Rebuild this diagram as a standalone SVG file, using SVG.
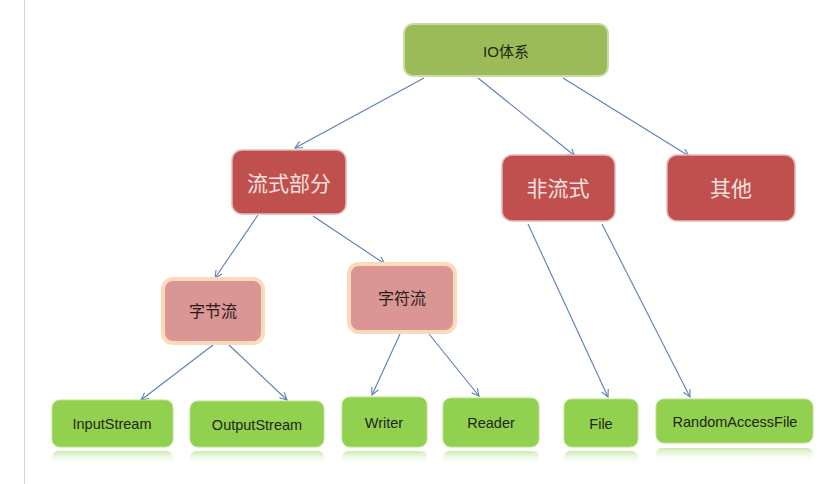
<svg xmlns="http://www.w3.org/2000/svg" width="834" height="484" viewBox="0 0 834 484">
<style>
.top{fill:#9bbb59;stroke:#c9dca3;stroke-width:2}
.red{fill:#c0504d;stroke:#e8b8b6;stroke-width:1.5}
.pink{fill:#d99694;stroke:#fbd9bb;stroke-width:4}
.leaf{fill:#92d050;stroke:#b9e38c;stroke-width:1}
.refl{fill:url(#rg)}
.t{font-family:"Liberation Sans","Noto Sans CJK SC",sans-serif;text-anchor:middle;dominant-baseline:central}
.tc{font-size:15px;fill:#1e2a10}
.tr{font-size:21px;fill:#f6e1e0}
.tp{font-size:16px;fill:#2a1a1a}
.tl{font-size:14.5px;fill:#1f2618}
.c{fill:none;stroke:#5b7fb4;stroke-width:1.1;marker-end:url(#ah)}
</style>
<defs>
<marker id="ah" viewBox="0 0 10 10" refX="9" refY="5" markerWidth="9" markerHeight="9" orient="auto" markerUnits="userSpaceOnUse">
<path d="M1,1 L9,5 L1,9" fill="none" stroke="#5b7fb4" stroke-width="1.2"/>
</marker>
<linearGradient id="rg" x1="0" y1="0" x2="0" y2="1">
<stop offset="0" stop-color="#c6e8a4" stop-opacity="0.9"/>
<stop offset="1" stop-color="#ffffff" stop-opacity="0"/>
</linearGradient>
</defs>
<rect width="834" height="484" fill="#ffffff"/>
<line x1="24.5" y1="0" x2="24.5" y2="484" stroke="#d6d6d6" stroke-width="1"/>
<g id="connectors">
<line class="c" x1="424" y1="78" x2="295" y2="148"/>
<line class="c" x1="478" y1="78" x2="575" y2="156"/>
<line class="c" x1="563" y1="78" x2="689" y2="156"/>
<line class="c" x1="258" y1="215" x2="215" y2="278"/>
<line class="c" x1="313" y1="216" x2="385" y2="264"/>
<line class="c" x1="213" y1="345" x2="141" y2="400"/>
<line class="c" x1="229" y1="345" x2="287" y2="400"/>
<line class="c" x1="400" y1="334" x2="372" y2="395"/>
<line class="c" x1="429" y1="334" x2="479" y2="396"/>
<line class="c" x1="528" y1="224" x2="608" y2="397"/>
<line class="c" x1="602" y1="224" x2="690" y2="397"/>
</g>
<g id="n-io"><rect class="top" x="404" y="24" width="204" height="52" rx="9"/><text class="t tc" x="506" y="51">IO体系</text></g>
<g id="n-liushi"><rect class="red" x="232" y="150" width="114" height="64" rx="10"/><text class="t tr" x="289" y="183">流式部分</text></g>
<g id="n-feiliushi"><rect class="red" x="502" y="155" width="113" height="66" rx="10"/><text class="t tr" x="558" y="188">非流式</text></g>
<g id="n-qita"><rect class="red" x="667" y="155" width="128" height="66" rx="10"/><text class="t tr" x="731" y="188">其他</text></g>
<g id="n-zijie"><rect class="pink" x="163" y="279" width="100" height="64" rx="10"/><text class="t tp" x="213" y="311">字节流</text></g>
<g id="n-zifu"><rect class="pink" x="349" y="264" width="106" height="68" rx="10"/><text class="t tp" x="402" y="298">字符流</text></g>
<g id="n-input"><rect class="refl" x="52" y="451" width="121" height="14" rx="6"/><rect class="leaf" x="52" y="400" width="121" height="47" rx="8"/><text class="t tl" x="112" y="424">InputStream</text></g>
<g id="n-output"><rect class="refl" x="190" y="451" width="134" height="14" rx="6"/><rect class="leaf" x="190" y="401" width="134" height="46" rx="8"/><text class="t tl" x="257" y="425">OutputStream</text></g>
<g id="n-writer"><rect class="refl" x="342" y="451" width="85" height="14" rx="6"/><rect class="leaf" x="342" y="397" width="85" height="50" rx="8"/><text class="t tl" x="384" y="423">Writer</text></g>
<g id="n-reader"><rect class="refl" x="443" y="451" width="96" height="14" rx="6"/><rect class="leaf" x="443" y="398" width="96" height="49" rx="8"/><text class="t tl" x="491" y="423">Reader</text></g>
<g id="n-file"><rect class="refl" x="564" y="451" width="74" height="14" rx="6"/><rect class="leaf" x="564" y="399" width="74" height="48" rx="8"/><text class="t tl" x="601" y="424">File</text></g>
<g id="n-raf"><rect class="refl" x="656" y="448" width="157" height="14" rx="6"/><rect class="leaf" x="656" y="399" width="157" height="44" rx="8"/><text class="t tl" x="735" y="422">RandomAccessFile</text></g>
</svg>
